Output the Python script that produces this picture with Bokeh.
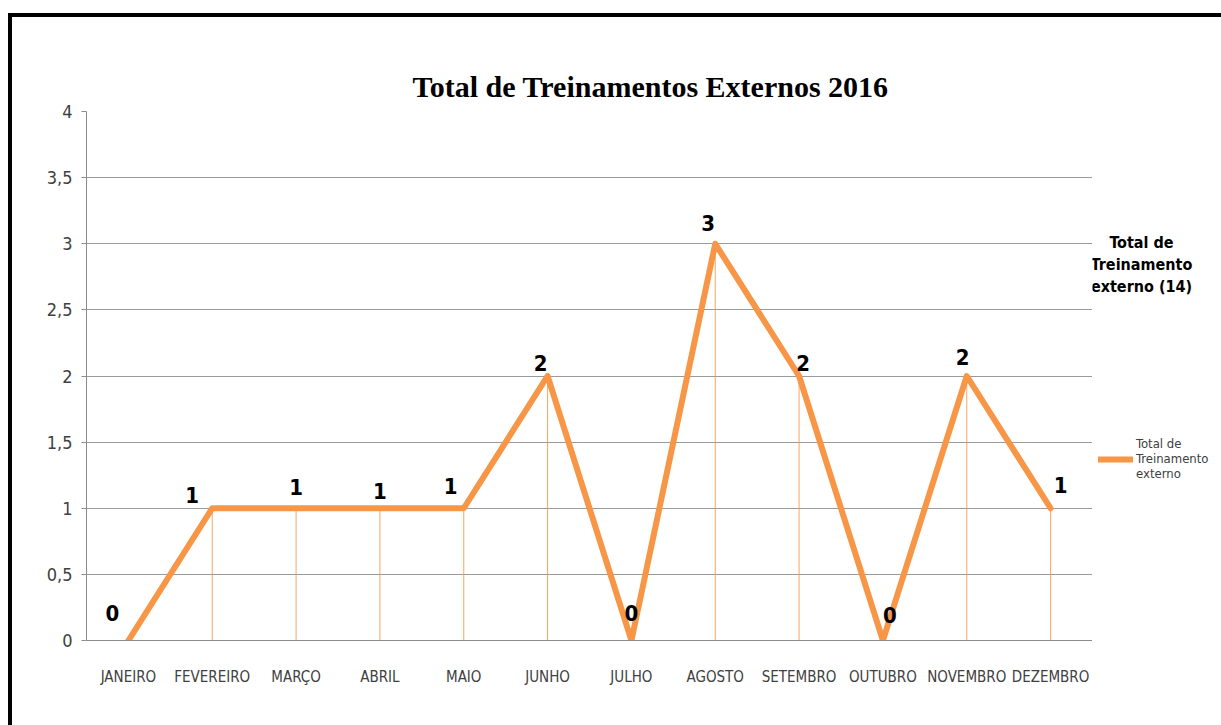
from bokeh.plotting import figure
from bokeh.layouts import row
from bokeh.models import (FactorRange, ColumnDataSource, Legend, LegendItem,
                          SingleIntervalTicker, CustomJSTickFormatter)
from bokeh.core.properties import value
from bokeh.embed import file_html
from bokeh.resources import INLINE

months = ["JANEIRO", "FEVEREIRO", "MARÇO", "ABRIL", "MAIO", "JUNHO", "JULHO",
          "AGOSTO", "SETEMBRO", "OUTUBRO", "NOVEMBRO", "DEZEMBRO"]
totals = [0, 1, 1, 1, 1, 2, 0, 3, 2, 0, 2, 1]
series_name = "Total de\nTreinamento\nexterno"
title_text = "Total de Treinamentos Externos 2016"
side_text = "Total de\nTreinamento\nexterno (14)"

# label offsets in pixels (style only): right / up
lab_dx = [-16, -20, 0, 0, -13, -7, 0, -7, 4, 7, -4, 10]
lab_dy = [28, 13, 21, 17, 22, 13, 28, 21, 13, 26, 19, 23]

NARROW = "'Liberation Sans Narrow', 'DejaVu Sans Condensed', sans-serif"
ORANGE = "#F79646"

src = ColumnDataSource(dict(x=months, y=totals, y0=[0] * len(totals),
                            t=[str(v) for v in totals], dx=lab_dx,
                            dy=[-d for d in lab_dy]))

p = figure(width=1080, height=708, x_range=FactorRange(*months, range_padding=0),
           y_range=(0, 4), output_backend="svg", toolbar_location=None,
           min_border_left=74, min_border_right=0, min_border_top=94,
           min_border_bottom=85)
p.outline_line_color = None
p.background_fill_color = "white"
p.border_fill_color = "white"

p.title.text = title_text
p.title.text_font = "'Liberation Serif', 'DejaVu Serif', serif"
p.title.text_font_size = "30px"
p.title.text_font_style = "bold"
p.title.align = "left"
p.title.offset = 326
p.title.standoff = 18
p.title.text_color = "black"

# drop lines
p.segment(x0="x", y0="y0", x1="x", y1="y", source=src, line_color=ORANGE,
          line_width=1, line_alpha=0.85)
r = p.line("x", "y", source=src, line_color=ORANGE, line_width=6,
           line_join="round", line_cap="round")
p.text(x="x", y="y", text="t", source=src, x_offset="dx", y_offset="dy",
       text_align="center", text_baseline="middle", text_font=value(NARROW),
       text_font_size="22px", text_font_style="bold", text_color="black")

# axes
p.yaxis.ticker = SingleIntervalTicker(interval=0.5)
p.yaxis.formatter = CustomJSTickFormatter(code="return String(tick).replace('.', ',');")
p.yaxis.axis_line_color = "#8c8c8c"
p.yaxis.major_tick_line_color = "#8c8c8c"
p.yaxis.major_tick_out = 5
p.yaxis.major_tick_in = 0
p.yaxis.minor_tick_line_color = None
p.yaxis.major_label_standoff = 9
p.yaxis.major_label_text_font = NARROW
p.yaxis.major_label_text_font_size = "18px"
p.yaxis.major_label_text_color = "#404040"

p.xaxis.axis_line_color = "#8c8c8c"
p.xaxis.major_tick_line_color = None
p.xaxis.minor_tick_line_color = None
p.xaxis.major_label_standoff = 21
p.xaxis.major_label_text_font = NARROW
p.xaxis.major_label_text_font_size = "15px"
p.xaxis.major_label_text_color = "#404040"

p.xgrid.grid_line_color = None
p.ygrid.grid_line_color = "#9a9a9a"
p.ygrid.grid_line_width = 1

# side panel: heading and legend (measured in pixels from the panel's bottom-left)
side = figure(width=129, height=708, x_range=(0, 129), y_range=(0, 708),
              output_backend="svg", toolbar_location=None,
              min_border=0, x_axis_type=None, y_axis_type=None)
side.outline_line_color = None
side.grid.visible = False
side.background_fill_color = "white"
side.border_fill_color = "white"

side.text(x=[49], y=[503], text=[side_text], text_align="center",
          text_baseline="middle", text_font=value(NARROW), text_font_size="16px",
          text_font_style="bold", text_color="black", text_line_height=1.15)

proxy = side.line(x=[-20, -10], y=[-20, -20], line_color=ORANGE, line_width=6,
                  line_cap="round")
legend = Legend(items=[LegendItem(label=series_name, renderers=[proxy])],
                location=(6, 159), border_line_color=None, background_fill_alpha=0,
                label_text_font=NARROW, label_text_font_size="13px",
                label_text_color="#404040",
                glyph_width=35, glyph_height=20, padding=0, margin=0, label_standoff=3)
side.add_layout(legend, "center")

layout = row(p, side, styles={"margin-left": "8px", "margin-top": "13px",
                              "border-top": "4px solid black",
                              "border-left": "4px solid black"})

open("out.html", "w").write(file_html(layout, INLINE))
